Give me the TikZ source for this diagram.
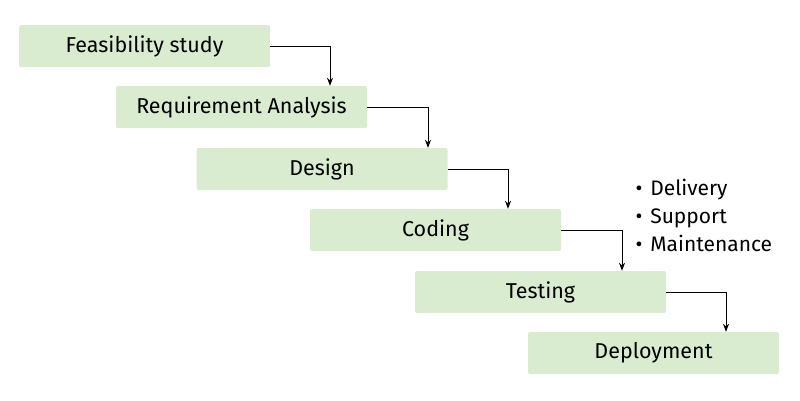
\documentclass[tikz,border=0pt]{standalone}
\usepackage{fontspec}
\setmainfont{Fira Sans}
\usetikzlibrary{positioning,arrows.meta}
\definecolor{stepgreen}{HTML}{D9ECD0}
\begin{document}
\begin{tikzpicture}[x=1pt,y=-1pt,
  phase/.style={fill=stepgreen,rounded corners=2pt,minimum width=251pt,minimum height=42pt,
    inner sep=0pt,font=\fontsize{21.5}{24}\selectfont},
  flow/.style={-{Stealth[length=8pt,width=6pt]},line width=1pt}]
  \useasboundingbox (0,0) rectangle (800,400);

  %draw phases
  \node[phase] (feas) at (144.5,46)  {Feasibility study};
  \node[phase] (req)  at (241.5,107) {Requirement Analysis};
  \node[phase] (des)  at (322,169)   {Design};
  \node[phase] (cod)  at (435.5,230) {Coding};
  \node[phase] (tes)  at (540.5,292) {Testing};
  \node[phase] (dep)  at (653.5,353) {Deployment};

  %draw arrows
  \draw[flow] (feas.east) -| ([xshift=88.5pt]req.north);
  \draw[flow] (req.east)  -| ([xshift=106pt]des.north);
  \draw[flow] (des.east)  -| ([xshift=72.5pt]cod.north);
  \draw[flow] (cod.east)  -| ([xshift=81.5pt]tes.north);
  \draw[flow] (tes.east)  -| ([xshift=72.5pt]dep.north);

  %draw list
  \node[anchor=west,align=left,font=\fontsize{21}{28}\selectfont] (list) at (632,215)
    {\textbullet\hspace{8pt}Delivery\\ \textbullet\hspace{8pt}Support\\ \textbullet\hspace{8pt}Maintenance};
\end{tikzpicture}
\end{document}
